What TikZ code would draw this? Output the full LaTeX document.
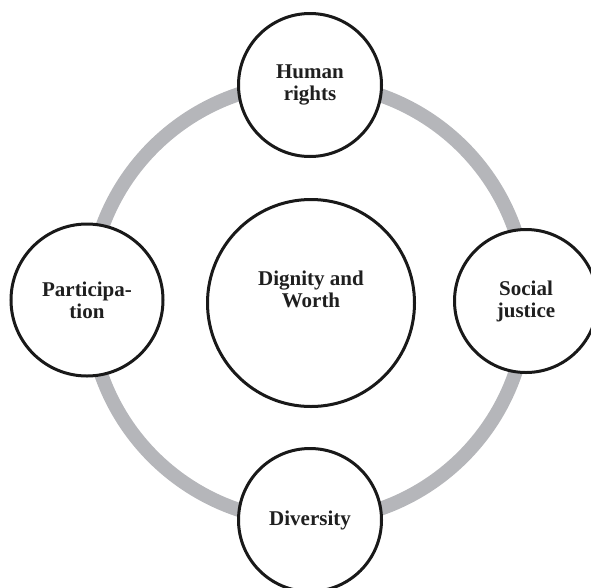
\documentclass[tikz,border=0pt]{standalone}
\usepackage{fontspec}
\setmainfont{Liberation Serif}
\begin{document}
\begin{tikzpicture}[x=1pt,y=-1pt,
  ring/.style={draw=ringgray,line width=14pt},
  value/.style={circle,draw=black!90,line width=3pt,fill=white,inner sep=0pt},
  valuetext/.style={align=center,font=\fontsize{21}{22}\selectfont\bfseries,text=black!88}]
  \definecolor{ringgray}{RGB}{181,182,186}
  \useasboundingbox (0,0) rectangle (591,587);
  \clip (0,0) rectangle (591,587);
  % the ring that links the four principles
  \coordinate (hub) at (308,302);
  \draw[ring] (hub) circle[radius=219pt];
  % central value
  \node[value,minimum size=207pt] (dignity) at (311,303) {};
  \node[valuetext] (dignitytext) at (311,289) {Dignity and\\Worth};
  % principles on the ring
  \node[value,minimum size=143pt,valuetext] (rights) at (310,85) {Human\\rights};
  \node[value,minimum size=152pt,valuetext] (participation) at (87,300) {Participa-\\tion};
  \node[value,minimum size=143pt,valuetext] (justice) at (526,301) {Social\\justice};
  \node[value,minimum size=143pt,valuetext] (diversity) at (310,520) {Diversity};
\end{tikzpicture}
\end{document}
